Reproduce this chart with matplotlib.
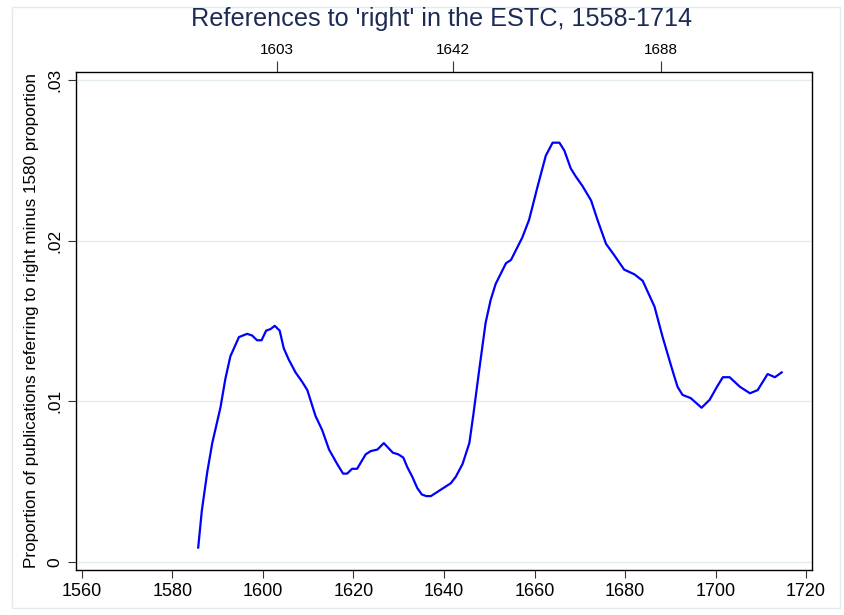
import matplotlib
matplotlib.use("Agg")
from matplotlib import pyplot as plt
from matplotlib.patches import Rectangle

plt.rcParams['font.family'] = ['Liberation Sans', 'DejaVu Sans']

# values
years = [1585.7, 1586.5, 1587.7, 1588.8, 1590.6, 1591.7, 1592.8, 1594.7, 1596.5, 1597.6,
         1598.7, 1599.7, 1600.7, 1601.7, 1602.6, 1603.7, 1604.6, 1605.7, 1607.2, 1608.7,
         1609.8, 1611.6, 1613.1, 1614.6, 1616.4, 1617.7, 1618.6, 1619.7, 1620.8, 1622.7,
         1623.8, 1625.3, 1626.7, 1627.7, 1628.7, 1629.9, 1631.0, 1631.9, 1633.0, 1634.1,
         1635.1, 1636.1, 1637.1, 1638.2, 1639.3, 1640.4, 1641.5, 1642.6, 1644.1, 1645.6,
         1646.5, 1647.8, 1649.2, 1650.3, 1651.4, 1653.7, 1654.8, 1657.3, 1658.8, 1660.7,
         1662.5, 1664.0, 1665.5, 1666.6, 1668.0, 1669.1, 1670.6, 1672.5, 1673.9, 1675.8,
         1677.6, 1679.8, 1682.1, 1683.9, 1686.5, 1688.3, 1690.5, 1691.6, 1692.7, 1694.5,
         1696.9, 1698.7, 1700.3, 1701.6, 1703.1, 1705.4, 1707.6, 1709.3, 1711.5, 1713.1,
         1714.6]
prop = [0.0009, 0.0032, 0.0056, 0.0074, 0.0096, 0.0114, 0.0128, 0.0140, 0.0142, 0.0141,
        0.0138, 0.0138, 0.0144, 0.0145, 0.0147, 0.0144, 0.0133, 0.0126, 0.0118, 0.0112,
        0.0107, 0.0091, 0.0082, 0.0070, 0.0061, 0.0055, 0.0055, 0.0058, 0.0058, 0.0067,
        0.0069, 0.0070, 0.0074, 0.0071, 0.0068, 0.0067, 0.0065, 0.0059, 0.0053, 0.0046,
        0.0042, 0.0041, 0.0041, 0.0043, 0.0045, 0.0047, 0.0049, 0.0053, 0.0061, 0.0074,
        0.0092, 0.0120, 0.0149, 0.0163, 0.0173, 0.0186, 0.0188, 0.0202, 0.0213, 0.0234,
        0.0253, 0.0261, 0.0261, 0.0256, 0.0245, 0.0240, 0.0234, 0.0225, 0.0213, 0.0198,
        0.0191, 0.0182, 0.0179, 0.0175, 0.0159, 0.0140, 0.0119, 0.0109, 0.0104, 0.0102,
        0.0096, 0.0101, 0.0109, 0.0115, 0.0115, 0.0109, 0.0105, 0.0107, 0.0117, 0.0115,
        0.0118]

xticks = [1560, 1580, 1600, 1620, 1640, 1660, 1680, 1700, 1720]
yticks = [0, 0.01, 0.02, 0.03]
ylabels = ["0", ".01", ".02", ".03"]
top_ticks = [1603, 1642, 1688]

fig = plt.figure(figsize=(8.45, 6.15), dpi=100)
fig.patches.append(Rectangle((12/845, 7/615), 828/845, 601/615, transform=fig.transFigure,
                             fill=False, edgecolor='#e2eaec', linewidth=1))
ax = fig.add_axes([76/845, 1-570/615, 736/845, 498/615])

ax.plot(years, prop, color='#0000ff', linewidth=1.6, solid_joinstyle='round')

ax.set_xlim(1558.7, 1721.3)
ax.set_ylim(-0.0005, 0.0305)
ax.set_xticks(xticks)
ax.set_xticklabels([str(t) for t in xticks], fontsize=13)
ax.set_yticks(yticks)
ax.set_yticklabels(ylabels, fontsize=12.5, rotation=90, va='center')
ax.tick_params(axis='both', direction='out', length=6, width=0.8, color='#333333')
ax.grid(axis='y', color='#e3ecee', linewidth=1)
ax.set_axisbelow(True)
for s in ax.spines.values():
    s.set_color('#444444')
    s.set_linewidth(1)

ax.set_ylabel("Proportion of publications referring to right minus 1580 proportion",
              fontsize=12.3, labelpad=6)

ax2 = ax.twiny()
ax2.set_xlim(ax.get_xlim())
ax2.set_xticks(top_ticks)
ax2.set_xticklabels([str(t) for t in top_ticks], fontsize=11)
ax2.tick_params(axis='x', direction='out', length=8, width=0.8, color='#333333', pad=3)

fig.text(442/845, 1-19/615, "References to 'right' in the ESTC, 1558-1714",
         ha='center', va='center', fontsize=18.2, color='#1c2b55')

fig.savefig("out.png", dpi=100)
